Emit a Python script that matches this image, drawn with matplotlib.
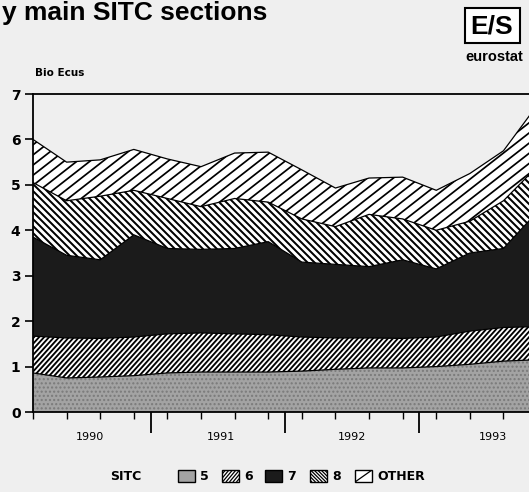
import numpy as np
import matplotlib.pyplot as plt
from matplotlib import font_manager
from matplotlib.patches import Rectangle
from matplotlib.collections import LineCollection

# quarterly values, Q1 1990 .. Q4 1993 (Bio Ecus)
quarters = np.arange(16)
sitc5 = [0.86, 0.75, 0.77, 0.80, 0.86, 0.88, 0.88, 0.88, 0.90, 0.94, 0.97, 0.97, 1.00, 1.05, 1.12, 1.15]
sitc6 = [0.81, 0.88, 0.85, 0.85, 0.86, 0.86, 0.84, 0.82, 0.75, 0.69, 0.66, 0.65, 0.65, 0.73, 0.74, 0.73]
sitc7 = [2.18, 1.82, 1.73, 2.25, 1.88, 1.84, 1.88, 2.05, 1.65, 1.62, 1.57, 1.73, 1.50, 1.72, 1.74, 2.52]
sitc8 = [1.20, 1.20, 1.40, 0.98, 1.10, 0.94, 1.10, 0.87, 0.95, 0.83, 1.15, 0.90, 0.85, 0.70, 1.05, 1.00]
other = [0.95, 0.85, 0.80, 0.90, 0.87, 0.88, 1.00, 1.10, 1.08, 0.85, 0.80, 0.92, 0.88, 1.05, 1.10, 1.35]

labels = ['5', '6', '7', '8', 'OTHER']
years = ['1990', '1991', '1992', '1993']
year_pos = [1.7, 5.6, 9.5, 13.7]

W, H = 529, 492
bg = '#efefef'
installed = {f.name for f in font_manager.fontManager.ttflist}
narrow = 'Liberation Sans Narrow' if 'Liberation Sans Narrow' in installed else 'Liberation Sans'

# fill colour and stripe texture (spacing px, angle deg, +1 = '/', -1 = '\', lw pt)
styles = [dict(fc='#a3a3a3', stripe=None),
          dict(fc='white', stripe=(5.0, 48, 1, 1.35)),
          dict(fc='#1b1b1b', stripe=None),
          dict(fc='white', stripe=(7.0, 45, -1, 1.45)),
          dict(fc='white', stripe=(13.0, 38, 1, 1.25))]


def stripe_segments(x0, y0, w, h, spacing, angle, sign):
    # diagonal lines covering a w x h pixel box, in pixel coords
    run = h / np.tan(np.radians(angle))
    segs = []
    for xs in np.arange(x0 - run - spacing, x0 + w + run + spacing, spacing):
        segs.append([(xs, y0), (xs + sign * run, y0 + h)])
    return segs


fig = plt.figure(figsize=(W / 100, H / 100), dpi=100)
fig.patch.set_facecolor(bg)
ax_l, ax_b, ax_w, ax_h = 33, 80, W - 33, 318
ax = fig.add_axes([ax_l / W, ax_b / H, ax_w / W, ax_h / H])
ax.set_facecolor(bg)
ax.set_xlim(0, 14.76)
ax.set_ylim(0, 7)

series = [sitc5, sitc6, sitc7, sitc8, other]
bottom = np.zeros(len(quarters))
for i, (vals, st) in enumerate(zip(series, styles)):
    top = bottom + np.array(vals)
    if i == 0:
        with plt.rc_context({'hatch.color': '#7a7a7a', 'hatch.linewidth': 1.0}):
            poly = ax.fill_between(quarters, bottom, top, facecolor=st['fc'],
                                   edgecolor='#7a7a7a', hatch='....', linewidth=0)
    else:
        poly = ax.fill_between(quarters, bottom, top, facecolor=st['fc'], linewidth=0)
    if st['stripe'] is not None:
        sp, ang, sg, lw = st['stripe']
        segs = stripe_segments(0, 0, ax_w, ax_h, sp, ang, sg)
        segs = [[(x / ax_w, y / ax_h) for x, y in s] for s in segs]
        lc = LineCollection(segs, colors='black', linewidths=lw,
                            transform=ax.transAxes)
        ax.add_collection(lc)
        lc.set_clip_path(poly.get_paths()[0], ax.transData)
    ax.plot(quarters, top, color='black', lw=0.9)
    bottom = top

ax.spines['right'].set_visible(False)
for s in ['left', 'bottom', 'top']:
    ax.spines[s].set_linewidth(1.3)

ax.set_yticks(range(8))
ax.set_yticklabels([str(i) for i in range(8)], fontweight='bold', fontsize=10)
ax.tick_params(axis='y', length=6, width=1.2, pad=3)

ax.set_xticks([3.5, 7.5, 11.5])
ax.set_xticklabels([])
ax.tick_params(axis='x', which='major', length=15, width=1.3, direction='out')
ax.set_xticks(quarters[:15], minor=True)
ax.tick_params(axis='x', which='minor', length=5, width=1.0, direction='out')

for yr, xp in zip(years, year_pos):
    ax.text(xp, -0.55, yr, ha='center', va='center', fontsize=8, clip_on=False)

# titles and labels
fig.text(2 / W, 1 - 20 / H, 'y main SITC sections', ha='left', va='baseline',
         fontsize=19, fontweight='bold', family='Liberation Sans')
fig.text(35 / W, 1 - 73 / H, 'Bio Ecus', ha='left', va='center',
         fontsize=7.5, fontweight='bold')

# eurostat logo
fig.add_artist(Rectangle((465 / W, 1 - 43 / H), 55 / W, 35 / H,
                         transform=fig.transFigure, facecolor='white',
                         edgecolor='black', lw=1.5))
fig.text(492 / W, 1 - 26 / H, 'E/S', ha='center', va='center', fontsize=19,
         fontweight='bold', family='Liberation Sans')
fig.text(494 / W, 1 - 57 / H, 'eurostat', ha='center', va='center', fontsize=10.5,
         fontweight='bold', family=narrow)

# legend, drawn by hand so the box textures match the areas
fig.text(110 / W, 1 - 476 / H, 'SITC', ha='left', va='center', fontsize=9,
         fontweight='bold')
box_x = [178, 222, 265, 310, 355]
legend_stripes = [None, (3.5, 50, 1), None, (3.5, 45, -1), (40.0, 33, 1)]
bw, bh, by = 17, 12, H - 482
for bx, st, lst, lab in zip(box_x, styles, legend_stripes, labels):
    rect = Rectangle((bx / W, by / H), bw / W, bh / H, transform=fig.transFigure,
                     facecolor=st['fc'], edgecolor='black', lw=1.0)
    fig.add_artist(rect)
    if lst is not None:
        sp, ang, sg = lst
        if sp > 20:
            segs = [[(bx, by), (bx + bw, by + bh)]]
        else:
            segs = stripe_segments(bx, by, bw, bh, sp, ang, sg)
        segs = [[(x / W, y / H) for x, y in s] for s in segs]
        lc = LineCollection(segs, colors='black', linewidths=0.9,
                            transform=fig.transFigure)
        fig.add_artist(lc)
        lc.set_clip_path(rect)
    fig.text((bx + bw + 5) / W, 1 - 476 / H, lab, ha='left', va='center',
             fontsize=9, fontweight='bold')

fig.savefig('out.png', dpi=100, facecolor=bg)
